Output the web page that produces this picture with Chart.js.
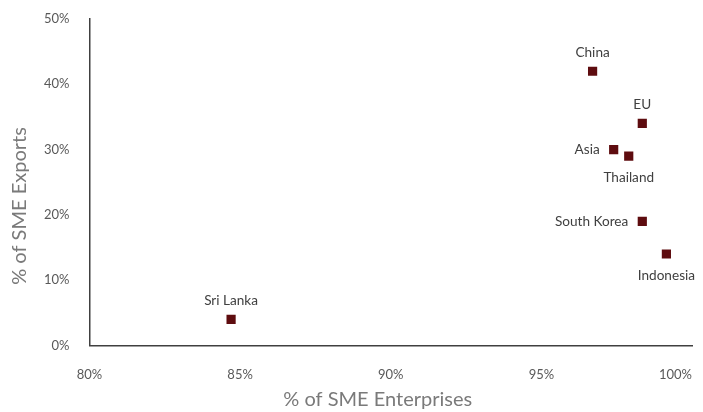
<!DOCTYPE html>
<html>
<head>
<meta charset="utf-8">
<script src="https://cdn.jsdelivr.net/npm/chart.js@4"></script>
<style>
  html, body { margin: 0; padding: 0; background: #fff; }
  #wrap { width: 703px; height: 412px; }
</style>
</head>
<body>
<div id="wrap"><canvas id="scatterChart"></canvas></div>
<script>
const countries = ["China", "EU", "Asia", "Thailand", "South Korea", "Indonesia", "Sri Lanka"];
const smeEnterprises = [96.7, 98.35, 97.4, 97.9, 98.35, 99.15, 84.7];
const smeExports = [42, 34, 30, 29, 19, 14, 4];
const labelSide = ["top", "top", "left", "bottom", "left", "bottom", "top"];
const xTicks = [80, 85, 90, 95, 100];
const yTicks = [0, 10, 20, 30, 40, 50];
const xTitle = "% of SME Enterprises";
const yTitle = "% of SME Exports";

const FONT = "Lato, 'Noto Sans', sans-serif";
const TITLE_COLOR = "#7a7a7a";

// étiquettes des pays à côté des points
const pointLabels = {
  id: "pointLabels",
  afterDatasetsDraw(chart) {
    const ctx = chart.ctx;
    const meta = chart.getDatasetMeta(0);
    ctx.save();
    ctx.font = "13.6px " + FONT;
    ctx.fillStyle = "#404040";
    ctx.textBaseline = "middle";
    meta.data.forEach((pt, i) => {
      const side = labelSide[i];
      let x = pt.x, y = pt.y;
      if (side === "top") { ctx.textAlign = "center"; y -= 19; }
      else if (side === "bottom") { ctx.textAlign = "center"; y += 22; }
      else { ctx.textAlign = "right"; x -= 14; }
      ctx.fillText(countries[i], x, y);
    });
    ctx.restore();
  }
};

// le dernier libellé de l'axe x est aligné à droite, comme dans Excel
const lastTickRight = {
  id: "lastTickRight",
  beforeDraw(chart) {
    const items = chart.scales.x.getLabelItems(chart.chartArea);
    if (items.length) items[items.length - 1].options.textAlign = "right";
  }
};

// titres des axes centrés comme dans le graphique d'origine
const axisTitles = {
  id: "axisTitles",
  afterDraw(chart) {
    const ctx = chart.ctx;
    const area = chart.chartArea;
    ctx.save();
    ctx.font = "20px " + FONT;
    ctx.fillStyle = TITLE_COLOR;
    ctx.textAlign = "center";
    ctx.textBaseline = "middle";
    ctx.fillText(xTitle, (area.left + area.right) / 2 - 13, chart.height - 12);
    ctx.translate(20, chart.height / 2);
    ctx.rotate(-Math.PI / 2);
    ctx.fillText(yTitle, 0, 0);
    ctx.restore();
  }
};

new Chart(document.getElementById("scatterChart"), {
  type: "scatter",
  data: {
    datasets: [{
      label: "SME",
      data: smeEnterprises.map((v, i) => ({ x: v, y: smeExports[i] })),
      backgroundColor: "#5e0c0f",
      borderWidth: 0,
      pointStyle: "rect",
      pointRadius: 6.5,
      pointHoverRadius: 6.5
    }]
  },
  options: {
    responsive: true,
    maintainAspectRatio: false,
    animation: false,
    layout: { padding: { top: 19, right: 11, bottom: 7, left: 24 } },
    plugins: { legend: { display: false }, tooltip: { enabled: false } },
    scales: {
      x: {
        type: "linear",
        min: 80, max: 100,
        afterBuildTicks: s => { s.ticks = xTicks.map(v => ({ value: v })); },
        afterFit: s => { s.paddingLeft = 0; s.paddingRight = 0; },
        grid: { display: false, drawTicks: false },
        border: { display: true, color: "#404040", width: 1.5 },
        ticks: {
          padding: 22,
          color: "#595959",
          font: { family: FONT, size: 13 },
          callback: v => v + "%"
        },
        title: { display: false }
      },
      y: {
        min: 0, max: 50,
        afterBuildTicks: s => { s.ticks = yTicks.map(v => ({ value: v })); },
        afterFit: s => { s.paddingTop = 0; s.paddingBottom = 0; },
        grid: { display: false, drawTicks: false },
        border: { display: true, color: "#404040", width: 1.5 },
        ticks: {
          padding: 20,
          color: "#595959",
          font: { family: FONT, size: 13 },
          callback: v => v + "%"
        },
        title: { display: false }
      }
    }
  },
  plugins: [pointLabels, lastTickRight, axisTitles]
});
</script>
</body>
</html>
